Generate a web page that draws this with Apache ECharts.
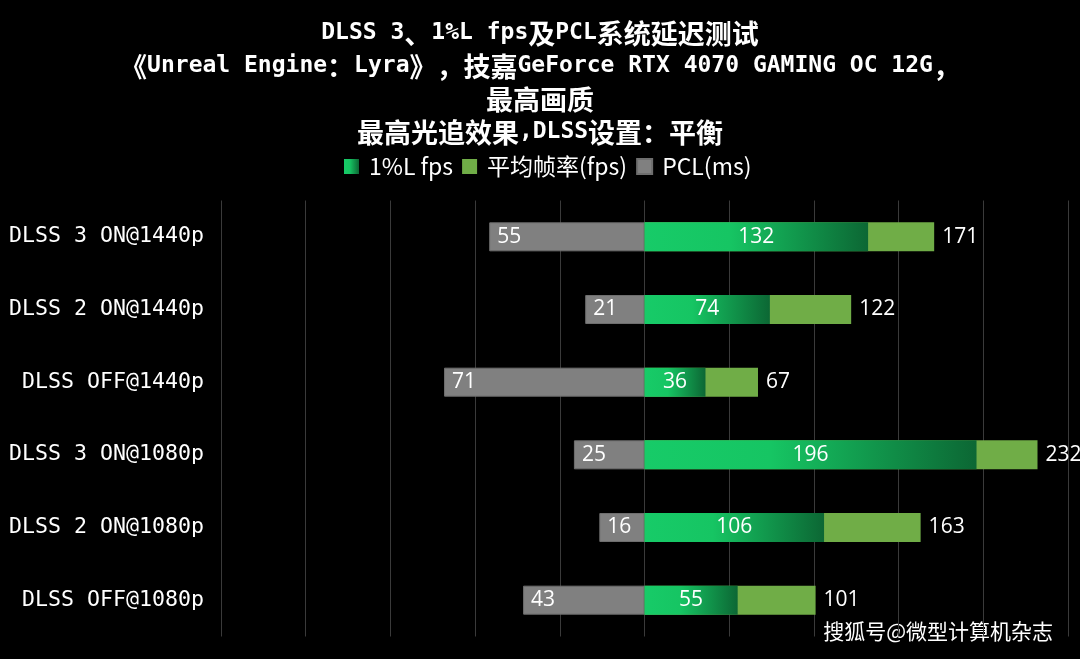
<!DOCTYPE html>
<html>
<head>
<meta charset="utf-8">
<script src="https://cdn.jsdelivr.net/npm/echarts@6/dist/echarts.min.js"></script>
<style>
html,body{margin:0;padding:0;background:#000;}
#c{width:1080px;height:659px;}
</style>
</head>
<body>
<div id="c"></div>
<script>
var categories = ['DLSS 3 ON@1440p', 'DLSS 2 ON@1440p', 'DLSS OFF@1440p', 'DLSS 3 ON@1080p', 'DLSS 2 ON@1080p', 'DLSS OFF@1080p'];
var lowFps = [132, 74, 36, 196, 106, 55];
var avgFps = [171, 122, 67, 232, 163, 101];
var pcl = [55, 21, 71, 25, 16, 43];
var seriesNames = ['1%L fps', '平均帧率(fps)', 'PCL(ms)'];

var CJK = "'Noto Sans CJK SC', sans-serif";
var MONO = "'DejaVu Sans Mono', 'Noto Sans CJK SC', monospace";
var LBL = "'Open Sans', 'Noto Sans', sans-serif";

var chart = echarts.init(document.getElementById('c'), null, {renderer: 'canvas'});

var titleText =
  '{l|DLSS 3}{p|、}{l|1%L fps}{c|及}{l|PCL}{c|系统延迟测试}\n' +
  '{pr|《}{l|Unreal Engine}{p|：}{l|Lyra}{p|》}{p|，}{c|技嘉}{l|GeForce RTX 4070 GAMING OC 12G}{p|，}\n' +
  '{c|最高画质}\n' +
  '{c|最高光追效果}{l|,DLSS}{c|设置}{p|：}{c|平衡}';

var option = {
  backgroundColor: '#000000',
  animation: false,
  title: {
    text: titleText,
    left: 'center',
    top: 12,
    textStyle: {
      color: '#fff',
      lineHeight: 33,
      rich: {
        c: {fontFamily: CJK, fontWeight: 'bold', fontSize: 27, color: '#fff', lineHeight: 33},
        p: {fontFamily: CJK, fontWeight: 'bold', fontSize: 27, color: '#fff', lineHeight: 33, width: 27, align: 'left'},
        pr: {fontFamily: CJK, fontWeight: 'bold', fontSize: 27, color: '#fff', lineHeight: 33, width: 27, align: 'right'},
        l: {fontFamily: "'DejaVu Sans Mono', monospace", fontWeight: 'bold', fontSize: 23, color: '#fff', lineHeight: 33}
      }
    }
  },
  legend: {
    data: seriesNames,
    top: 150,
    left: 339,
    itemWidth: 15,
    itemHeight: 15,
    itemGap: 9,
    icon: 'rect',
    textStyle: {color: '#fff', fontFamily: CJK, fontSize: 23, padding: [0, 0, 0, 5]}
  },
  grid: {left: 221, right: 12, top: 200.5, bottom: 22.5, containLabel: false},
  xAxis: [
    {
      type: 'value', min: -250, max: 250, interval: 50,
      axisLabel: {show: false}, axisLine: {show: false}, axisTick: {show: false},
      splitLine: {show: true, lineStyle: {color: '#3a3a3a', width: 1}}
    },
    {
      type: 'value', min: -150, max: 150, interval: 50, inverse: true,
      axisLabel: {show: false}, axisLine: {show: false}, axisTick: {show: false},
      splitLine: {show: false}
    }
  ],
  yAxis: {
    type: 'category', data: categories, inverse: true,
    axisLine: {show: false}, axisTick: {show: false},
    axisLabel: {color: '#fff', fontFamily: MONO, fontSize: 21.6, margin: 17}
  },
  series: [
    {
      name: seriesNames[0], type: 'bar', xAxisIndex: 0, data: lowFps,
      barWidth: 29, barGap: '-100%', z: 4,
      itemStyle: {
        color: new echarts.graphic.LinearGradient(0, 0, 1, 0, [
          {offset: 0, color: '#17CB68'},
          {offset: 0.38, color: '#16C563'},
          {offset: 1, color: '#0C6734'}
        ])
      },
      label: {show: true, position: 'inside', color: '#fff', fontFamily: LBL, fontSize: 21}
    },
    {
      name: seriesNames[1], type: 'bar', xAxisIndex: 0, data: avgFps,
      barWidth: 29, barGap: '-100%', z: 3,
      itemStyle: {color: '#70AD47'},
      label: {show: true, position: 'right', distance: 8, color: '#fff', fontFamily: LBL, fontSize: 21}
    },
    {
      name: seriesNames[2], type: 'bar', xAxisIndex: 1, data: pcl,
      barWidth: 29, barGap: '-100%', z: 3,
      itemStyle: {color: '#808080', borderColor: '#6e6e6e', borderWidth: 1},
      label: {show: true, position: 'insideLeft', distance: 8, color: '#fff', fontFamily: LBL, fontSize: 21}
    }
  ],
  graphic: [
    {
      type: 'text', right: 27, top: 621,
      style: {text: '搜狐号@微型计算机杂志', fill: '#fff', font: '21px ' + CJK}
    }
  ]
};
chart.setOption(option);
</script>
</body>
</html>
